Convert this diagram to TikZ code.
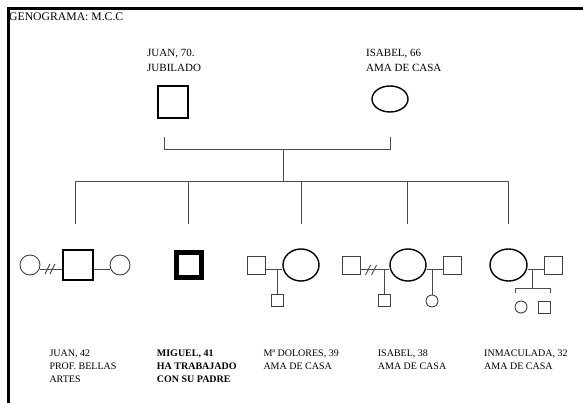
\documentclass[tikz,border=0pt]{standalone}
\usepackage{fontspec}
\setmainfont{Liberation Serif}
\usetikzlibrary{shapes.geometric,positioning}

\begin{document}
\begin{tikzpicture}[x=1pt, y=-1pt,
    male/.style={draw=black, rectangle, line width=1.1pt, minimum size=30pt, inner sep=0pt},
    female/.style={draw=black, ellipse, line width=1.4pt, minimum width=36pt, minimum height=32pt, inner sep=0pt},
    smallmale/.style={draw=black!75, rectangle, line width=0.9pt, minimum size=18pt, inner sep=0pt},
    smallfemale/.style={draw=black!75, circle, line width=0.9pt, minimum size=20pt, inner sep=0pt},
    kidmale/.style={smallmale, minimum size=12pt},
    kidfemale/.style={smallfemale, minimum size=12pt},
    rel/.style={draw=black!70, line width=0.9pt},
    info/.style={anchor=north west, align=left, inner sep=0pt, font=\fontsize{10}{13}\selectfont}
]
\useasboundingbox (0,0) rectangle (583,403);

% Frame and title
\draw[line width=2.5pt] (8.7,403) -- (8.7,8.7) -- (583,8.7);
\node[anchor=base west, inner sep=0pt, font=\fontsize{11.7}{13}\selectfont] (title) at (9,20.5) {GENOGRAMA: M.C.C};

% Parents
\node[male, minimum height=32pt] (juan70) at (173,102) {};
\node[female, minimum height=26pt] (isabel66) at (390,99) {};
\node[info, font=\fontsize{11}{14.5}\selectfont] (juan70txt) at (147,49.2) {JUAN, 70.\\JUBILADO};
\node[info, font=\fontsize{11}{14.5}\selectfont] (isabel66txt) at (366,49.2) {ISABEL, 66\\AMA DE CASA};

% Marriage bar and stem to the children
\coordinate (pl) at (164,137);
\coordinate (pr) at (390,137);
\coordinate (pm) at (283,149);
\coordinate (sib) at (283,181);
\draw[rel] (pl) -- (pl |- pm) -- (pr |- pm) -- (pr);
\draw[rel] (pm) -- (sib);

% Sibling bar with one drop per child
\foreach \x/\n in {75/1,188/2,301/3,407/4,508/5} {
  \coordinate (s\n) at (\x,181);
  \coordinate (d\n) at (\x,224);
  \draw[rel] (s\n) -- (d\n);
}
\draw[rel] (s1) -- (s5);

% Juan, 42: divorced on the left, partner on the right
\node[male] (juan42) at (78,265) {};
\node[smallfemale] (juan42w1) at (30,265) {};
\node[smallfemale] (juan42w2) at (120,265) {};
\coordinate (juan42m1) at (47.5,269);
\draw[rel] (juan42w1.east |- juan42m1) -- (juan42.west |- juan42m1);
\draw[rel] (juan42.east |- juan42m1) -- (juan42w2.west |- juan42m1);
\draw[rel] (47.5,269) ++(-2.5,5) -- ++(5,-10);
\draw[rel] (52.5,269) ++(-2.5,5) -- ++(5,-10);

% Miguel, 41
\node[male, line width=5pt, minimum size=25pt] (miguel) at (189,265) {};

% Ma Dolores, 39
\node[smallmale] (dolh) at (256.5,265.5) {};
\node[female] (dolores) at (301,265) {};
\coordinate (dolm) at (277,269);
\node[kidmale] (dolk) at (277,300.5) {};
\draw[rel] (dolh.east |- dolm) -- (dolores.west |- dolm);
\draw[rel] (dolm) -- (dolk.north);

% Isabel, 38: divorced on the left, partner on the right
\node[smallmale] (isah1) at (351.5,265.5) {};
\node[female] (isabel38) at (408,265) {};
\node[smallmale] (isah2) at (452,265.5) {};
\coordinate (isam1) at (384,269);
\coordinate (isam2) at (432,269);
\node[kidmale] (isak1) at (384,300.5) {};
\node[kidfemale] (isak2) at (432,301) {};
\draw[rel] (isah1.east |- isam1) -- (isabel38.west |- isam1);
\draw[rel] (isabel38.east |- isam2) -- (isah2.west |- isam2);
\draw[rel] (isam1) -- (isak1.north);
\draw[rel] (isam2) -- (isak2.north);
\draw[rel] (368,270) ++(-2.5,5) -- ++(5,-10);
\draw[rel] (374,270) ++(-2.5,5) -- ++(5,-10);

% Inmaculada, 32: two children
\node[female, minimum width=37pt] (inma) at (508.5,265) {};
\node[smallmale] (inmah) at (553,265.5) {};
\coordinate (inmam) at (532,269);
\coordinate (inmabl) at (515,288);
\coordinate (inmabr) at (550,288);
\node[kidfemale] (inmak1) at (521,307) {};
\node[kidmale] (inmak2) at (544,307) {};
\draw[rel] (inma.east |- inmam) -- (inmah.west |- inmam);
\draw[rel] (inmam) -- (inmam |- inmabl);
\draw[rel] (inmabl) ++(0,5) -- (inmabl) -- (inmabr) -- ++(0,5);

% Texts under the children
\node[info] (juan42txt) at (49.3,350) {JUAN, 42\\PROF. BELLAS\\ARTES};
\node[info, font=\fontsize{10}{13}\selectfont\bfseries] (migueltxt) at (156.7,350) {MIGUEL, 41\\HA TRABAJADO\\CON SU PADRE};
\node[info] (dolorestxt) at (263.3,350) {Mª DOLORES, 39\\AMA DE CASA};
\node[info] (isabel38txt) at (377.7,350) {ISABEL, 38\\AMA DE CASA};
\node[info] (inmatxt) at (484,350) {INMACULADA, 32\\AMA DE CASA};

\end{tikzpicture}
\end{document}
